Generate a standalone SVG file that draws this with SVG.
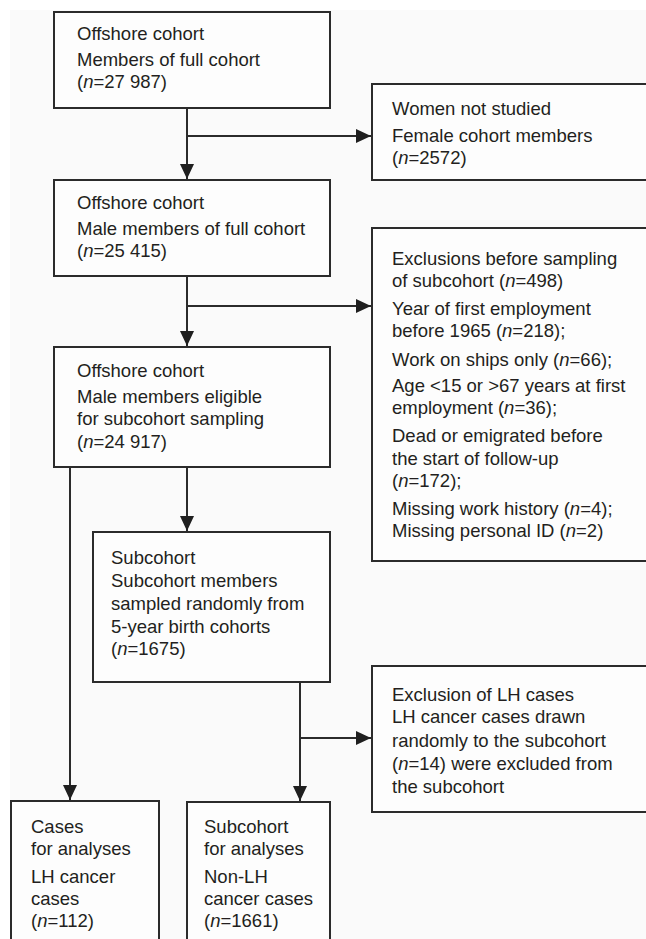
<svg xmlns="http://www.w3.org/2000/svg" width="646" height="939" viewBox="0 0 646 939">
<style>
.box{fill:#fdfdfd;stroke:#2b2b2b;stroke-width:2}
.t{font-family:"Liberation Sans",Arial,Helvetica,sans-serif;font-size:18.5px;fill:#231f20}
.i{font-style:italic}
.c{fill:none;stroke:#2b2b2b;stroke-width:2}
</style>
<defs>
<marker id="ah" markerUnits="userSpaceOnUse" markerWidth="15" markerHeight="14" refX="15" refY="7" orient="auto">
<path d="M0,0 L15,7 L0,14 z" fill="#1f1f1f"/>
</marker>
</defs>
<rect x="0" y="0" width="646" height="939" fill="#ffffff"/>
<rect x="10" y="10" width="636" height="929" fill="#fafafa"/>

<g id="connectors">
<path class="c" d="M187,108 V179" marker-end="url(#ah)"/>
<path class="c" d="M187,136 H371" marker-end="url(#ah)"/>
<path class="c" d="M187,276 V346" marker-end="url(#ah)"/>
<path class="c" d="M187,306 H371" marker-end="url(#ah)"/>
<path class="c" d="M187,467 V531" marker-end="url(#ah)"/>
<path class="c" d="M70,467 V800" marker-end="url(#ah)"/>
<path class="c" d="M300,682 V801" marker-end="url(#ah)"/>
<path class="c" d="M300,738 H371" marker-end="url(#ah)"/>
</g>

<g id="full-cohort">
<rect class="box" x="54" y="12" width="276" height="96"/>
<text class="t" x="77" y="40">Offshore cohort</text>
<text class="t" x="77" y="65.5">Members of full cohort</text>
<text class="t" x="77" y="87.5">(<tspan class="i">n</tspan>=27 987)</text>
</g>

<g id="women-not-studied">
<rect class="box" x="372" y="84" width="290" height="96"/>
<text class="t" x="392" y="115">Women not studied</text>
<text class="t" x="392" y="141.5">Female cohort members</text>
<text class="t" x="392" y="164">(<tspan class="i">n</tspan>=2572)</text>
</g>

<g id="male-cohort">
<rect class="box" x="54" y="180" width="276" height="96"/>
<text class="t" x="77" y="209">Offshore cohort</text>
<text class="t" x="77" y="235">Male members of full cohort</text>
<text class="t" x="77" y="257">(<tspan class="i">n</tspan>=25 415)</text>
</g>

<g id="exclusions">
<rect class="box" x="372" y="228" width="290" height="333"/>
<text class="t" x="392" y="265">Exclusions before sampling</text>
<text class="t" x="392" y="287.3">of subcohort (<tspan class="i">n</tspan>=498)</text>
<text class="t" x="392" y="315">Year of first employment</text>
<text class="t" x="392" y="337.3">before 1965 (<tspan class="i">n</tspan>=218);</text>
<text class="t" x="392" y="366">Work on ships only (<tspan class="i">n</tspan>=66);</text>
<text class="t" x="392" y="391.7">Age &lt;15 or &gt;67 years at first</text>
<text class="t" x="392" y="414">employment (<tspan class="i">n</tspan>=36);</text>
<text class="t" x="392" y="442.3">Dead or emigrated before</text>
<text class="t" x="392" y="464.5">the start of follow-up</text>
<text class="t" x="392" y="486.7">(<tspan class="i">n</tspan>=172);</text>
<text class="t" x="392" y="515">Missing work history (<tspan class="i">n</tspan>=4);</text>
<text class="t" x="392" y="537.3">Missing personal ID (<tspan class="i">n</tspan>=2)</text>
</g>

<g id="eligible">
<rect class="box" x="54" y="347" width="276" height="120"/>
<text class="t" x="77" y="376.7">Offshore cohort</text>
<text class="t" x="77" y="402.7">Male members eligible</text>
<text class="t" x="77" y="425">for subcohort sampling</text>
<text class="t" x="77" y="447.5">(<tspan class="i">n</tspan>=24 917)</text>
</g>

<g id="subcohort">
<rect class="box" x="93" y="532" width="237" height="150"/>
<text class="t" x="111" y="564">Subcohort</text>
<text class="t" x="111" y="587.3">Subcohort members</text>
<text class="t" x="111" y="610">sampled randomly from</text>
<text class="t" x="111" y="632.7">5-year birth cohorts</text>
<text class="t" x="111" y="655">(<tspan class="i">n</tspan>=1675)</text>
</g>

<g id="exclusion-lh">
<rect class="box" x="372" y="666" width="290" height="146"/>
<text class="t" x="392" y="700.7">Exclusion of LH cases</text>
<text class="t" x="392" y="723.3">LH cancer cases drawn</text>
<text class="t" x="392" y="746.5">randomly to the subcohort</text>
<text class="t" x="392" y="769.5">(<tspan class="i">n</tspan>=14) were excluded from</text>
<text class="t" x="392" y="792.5">the subcohort</text>
</g>

<g id="cases">
<rect class="box" x="11" y="801" width="148" height="150"/>
<text class="t" x="31" y="833.3">Cases</text>
<text class="t" x="31" y="855">for analyses</text>
<text class="t" x="31" y="882.7">LH cancer</text>
<text class="t" x="31" y="905">cases</text>
<text class="t" x="31" y="926.7">(<tspan class="i">n</tspan>=112)</text>
</g>

<g id="subcohort-analyses">
<rect class="box" x="187" y="802" width="143" height="150"/>
<text class="t" x="204" y="833.3">Subcohort</text>
<text class="t" x="204" y="855">for analyses</text>
<text class="t" x="204" y="882.7">Non-LH</text>
<text class="t" x="204" y="905">cancer cases</text>
<text class="t" x="204" y="926.7">(<tspan class="i">n</tspan>=1661)</text>
</g>
</svg>
